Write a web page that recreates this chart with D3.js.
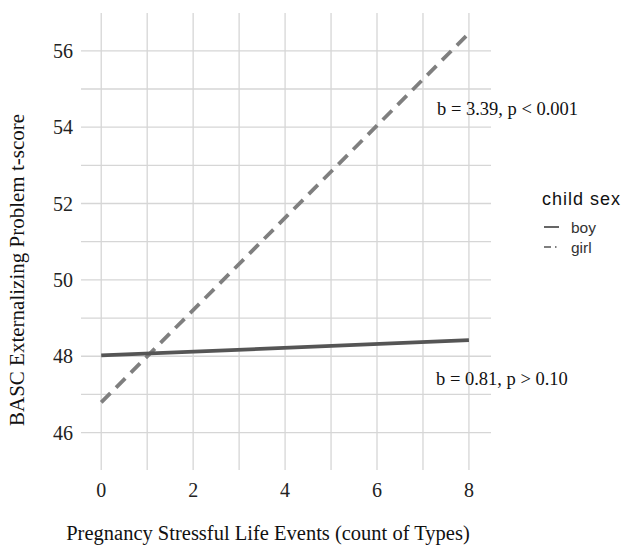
<!DOCTYPE html>
<html>
<head>
<meta charset="utf-8">
<script src="https://cdn.jsdelivr.net/npm/d3@7"></script>
<style>
  body { margin: 0; background: #fff; }
  svg { display: block; }
</style>
</head>
<body>
<script>
// ---- data ----
var xTicks = [0, 2, 4, 6, 8];
var yTicks = [46, 48, 50, 52, 54, 56];
var sexes = ["boy", "girl"];
var boyLine = [{x: 0, y: 48.02}, {x: 8, y: 48.42}];
var girlLine = [{x: 0, y: 46.79}, {x: 8, y: 56.46}];
var notes = [
    {text: "b = 3.39, p < 0.001", x: 437, y: 109},
    {text: "b = 0.81, p > 0.10", x: 436, y: 379}
];

var width = 626, height = 545;
var panel = {left: 81, right: 491, top: 13, bottom: 470};

var svg = d3.select("body").append("svg")
    .attr("width", width)
    .attr("height", height);

var x = d3.scaleLinear()
    .domain([-0.44, 8.48])
    .range([panel.left, panel.right]);

var y = d3.scaleLinear()
    .domain([45.02, 56.99])
    .range([panel.bottom, panel.top]);

// grid (major + minor)
var grid = svg.append("g");
var xGrid = d3.range(0, 9, 1);
var yGrid = d3.range(46, 57, 1);

grid.selectAll(".vx").data(xGrid).enter().append("line")
    .attr("x1", function(d){ return x(d); })
    .attr("x2", function(d){ return x(d); })
    .attr("y1", panel.top).attr("y2", panel.bottom)
    .attr("stroke", "#d6d6d6").attr("stroke-width", 1.3);

grid.selectAll(".hy").data(yGrid).enter().append("line")
    .attr("y1", function(d){ return y(d); })
    .attr("y2", function(d){ return y(d); })
    .attr("x1", panel.left).attr("x2", panel.right)
    .attr("stroke", "#d6d6d6").attr("stroke-width", 1.3);

// tick labels
svg.append("g")
    .selectAll("text").data(xTicks).enter().append("text")
    .attr("x", function(d){ return x(d); })
    .attr("y", 497)
    .attr("text-anchor", "middle")
    .style("font-family", "Liberation Serif, serif")
    .style("font-size", "20px")
    .attr("fill", "#222")
    .text(function(d){ return d; });

svg.append("g")
    .selectAll("text").data(yTicks).enter().append("text")
    .attr("x", 73)
    .attr("y", function(d){ return y(d) + 7; })
    .attr("text-anchor", "end")
    .style("font-family", "Liberation Serif, serif")
    .style("font-size", "20px")
    .attr("fill", "#222")
    .text(function(d){ return d; });

// lines
var line = d3.line()
    .x(function(d){ return x(d.x); })
    .y(function(d){ return y(d.y); });

svg.append("path")
    .datum(girlLine)
    .attr("d", line)
    .attr("fill", "none")
    .attr("stroke", "#7f7f7f")
    .attr("stroke-width", 3.8)
    .attr("stroke-dasharray", "13,8");

svg.append("path")
    .datum(boyLine)
    .attr("d", line)
    .attr("fill", "none")
    .attr("stroke", "#555")
    .attr("stroke-width", 3.8);

// annotations
svg.selectAll(".note").data(notes).enter().append("text")
    .attr("class", "note")
    .attr("x", function(d){ return d.x; })
    .attr("y", function(d){ return d.y + 6; })
    .style("font-family", "Liberation Serif, serif")
    .style("font-size", "18.5px")
    .attr("fill", "#111")
    .text(function(d){ return d.text; });

// axis titles
svg.append("text")
    .attr("x", 268)
    .attr("y", 540)
    .attr("text-anchor", "middle")
    .style("font-family", "Liberation Serif, serif")
    .style("font-size", "20.5px")
    .attr("fill", "#111")
    .text("Pregnancy Stressful Life Events (count of Types)");

svg.append("text")
    .attr("transform", "translate(24,270) rotate(-90)")
    .attr("text-anchor", "middle")
    .style("font-family", "Liberation Serif, serif")
    .style("font-size", "21px")
    .attr("fill", "#111")
    .text("BASC Externalizing Problem t-score");

// legend
var legend = svg.append("g");
legend.append("text")
    .attr("x", 542)
    .attr("y", 205)
    .style("font-family", "Liberation Sans, sans-serif")
    .style("font-size", "18px")
    .style("letter-spacing", "1px")
    .attr("fill", "#111")
    .text("child sex");

var keys = legend.selectAll(".key").data(sexes).enter().append("g")
    .attr("transform", function(d, i){ return "translate(544," + (227 + i * 20) + ")"; });

keys.append("line")
    .attr("x1", 0).attr("x2", 15)
    .attr("stroke", function(d){ return d === "boy" ? "#555" : "#7f7f7f"; })
    .attr("stroke-width", 1.8)
    .attr("stroke-dasharray", function(d){ return d === "girl" ? "7,4,1.5,4" : null; });

keys.append("text")
    .attr("x", 27)
    .attr("y", 5.5)
    .style("font-family", "Liberation Sans, sans-serif")
    .style("font-size", "15.5px")
    .attr("fill", "#333")
    .text(function(d){ return d; });
</script>
</body>
</html>
